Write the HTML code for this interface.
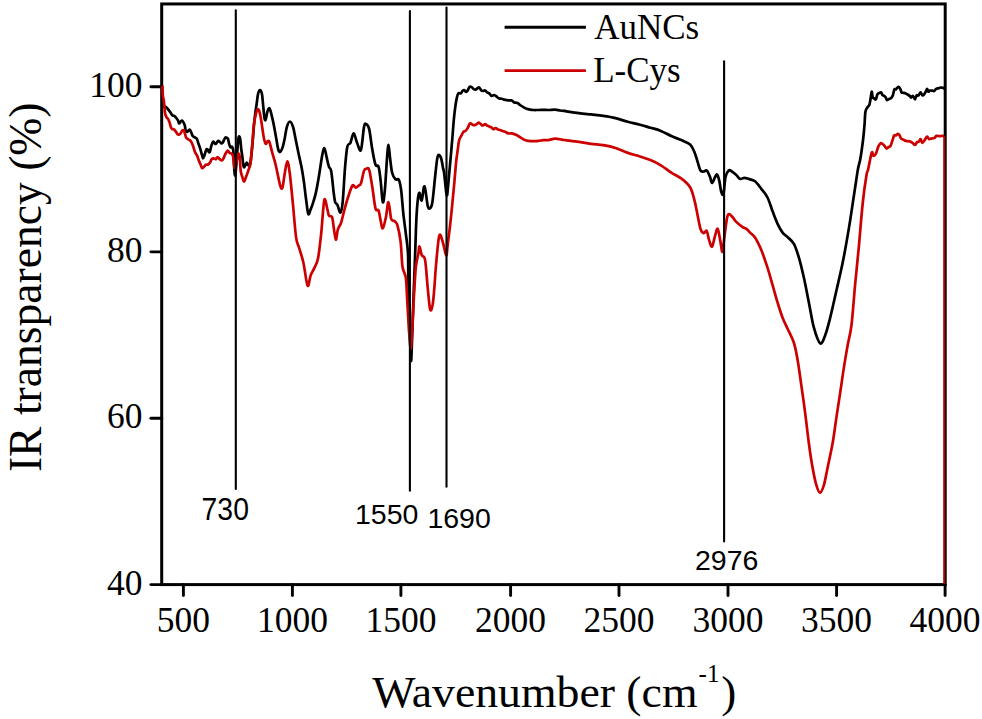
<!DOCTYPE html>
<html><head><meta charset="utf-8"><style>
html,body{margin:0;padding:0;background:#fff;width:982px;height:719px;overflow:hidden}
svg{position:absolute;left:0;top:0}
.s{font-family:"Liberation Serif",serif}
.a{font-family:"Liberation Sans",sans-serif}
</style></head><body>
<svg width="982" height="719" viewBox="0 0 982 719">

<rect x="161.70" y="3.95" width="783.50" height="580.65" fill="none" stroke="#000" stroke-width="3"/>
<line x1="183.4" y1="584.6" x2="183.4" y2="595.5" stroke="#000" stroke-width="2.9" stroke-linecap="round"/>
<text class="s" x="183.4" y="631.5" font-size="35.5" text-anchor="middle">500</text>
<line x1="292.4" y1="584.6" x2="292.4" y2="595.5" stroke="#000" stroke-width="2.9" stroke-linecap="round"/>
<text class="s" x="292.4" y="631.5" font-size="35.5" text-anchor="middle">1000</text>
<line x1="400.9" y1="584.6" x2="400.9" y2="595.5" stroke="#000" stroke-width="2.9" stroke-linecap="round"/>
<text class="s" x="400.9" y="631.5" font-size="35.5" text-anchor="middle">1500</text>
<line x1="510.6" y1="584.6" x2="510.6" y2="595.5" stroke="#000" stroke-width="2.9" stroke-linecap="round"/>
<text class="s" x="510.6" y="631.5" font-size="35.5" text-anchor="middle">2000</text>
<line x1="619.0" y1="584.6" x2="619.0" y2="595.5" stroke="#000" stroke-width="2.9" stroke-linecap="round"/>
<text class="s" x="619.0" y="631.5" font-size="35.5" text-anchor="middle">2500</text>
<line x1="728.0" y1="584.6" x2="728.0" y2="595.5" stroke="#000" stroke-width="2.9" stroke-linecap="round"/>
<text class="s" x="728.0" y="631.5" font-size="35.5" text-anchor="middle">3000</text>
<line x1="836.6" y1="584.6" x2="836.6" y2="595.5" stroke="#000" stroke-width="2.9" stroke-linecap="round"/>
<text class="s" x="836.6" y="631.5" font-size="35.5" text-anchor="middle">3500</text>
<line x1="945.1" y1="584.6" x2="945.1" y2="595.5" stroke="#000" stroke-width="2.9" stroke-linecap="round"/>
<text class="s" x="945.1" y="631.5" font-size="35.5" text-anchor="middle">4000</text>
<line x1="150.9" y1="86.80" x2="161.70" y2="86.80" stroke="#000" stroke-width="2.9" stroke-linecap="round"/>
<text class="s" x="142.6" y="96.9" font-size="35.5" text-anchor="end">100</text>
<line x1="150.9" y1="251.85" x2="161.70" y2="251.85" stroke="#000" stroke-width="2.9" stroke-linecap="round"/>
<text class="s" x="142.6" y="261.9" font-size="35.5" text-anchor="end">80</text>
<line x1="150.9" y1="418.30" x2="161.70" y2="418.30" stroke="#000" stroke-width="2.9" stroke-linecap="round"/>
<text class="s" x="142.6" y="428.4" font-size="35.5" text-anchor="end">60</text>
<line x1="150.9" y1="584.60" x2="161.70" y2="584.60" stroke="#000" stroke-width="2.9" stroke-linecap="round"/>
<text class="s" x="142.6" y="594.7" font-size="35.5" text-anchor="end">40</text>
<path d="M162.3,106.6 C162.6,106.6 163.5,106.6 164.2,106.8 C164.9,107.0 165.9,107.0 166.6,107.5 C167.3,108.0 167.7,108.8 168.3,109.6 C168.9,110.4 169.8,111.5 170.4,112.4 C171.1,113.3 171.5,114.6 172.2,115.2 C172.8,115.8 173.6,115.4 174.3,115.9 C175.0,116.4 175.7,117.2 176.3,118.0 C176.9,118.8 177.6,119.8 178.1,120.7 C178.6,121.6 178.6,123.4 179.1,123.5 C179.6,123.6 180.4,121.9 180.9,121.4 C181.4,120.9 181.8,120.4 182.3,120.7 C182.8,121.0 183.6,122.6 184.0,123.5 C184.4,124.4 184.7,125.1 185.0,126.3 C185.3,127.5 185.3,129.6 185.7,130.5 C186.0,131.4 186.6,131.9 187.1,131.9 C187.6,131.9 188.0,130.8 188.5,130.5 C189.0,130.2 189.4,129.5 189.9,129.8 C190.4,130.2 190.8,131.6 191.3,132.6 C191.8,133.6 192.1,135.2 192.7,136.0 C193.3,136.8 194.1,136.9 194.8,137.4 C195.5,137.9 196.3,137.7 196.9,138.8 C197.5,139.9 197.9,142.2 198.5,143.8 C199.1,145.4 199.6,146.8 200.2,148.6 C200.8,150.4 201.5,153.3 202.0,154.9 C202.5,156.5 202.6,158.3 203.0,158.4 C203.4,158.5 203.9,157.0 204.4,155.6 C204.9,154.2 205.6,151.1 206.1,150.0 C206.6,148.9 207.0,149.0 207.5,149.3 C208.0,149.7 208.5,151.8 208.9,152.1 C209.3,152.4 209.6,152.4 210.0,151.4 C210.4,150.4 210.8,147.5 211.3,145.9 C211.8,144.3 212.6,142.2 213.1,141.7 C213.6,141.2 214.0,142.8 214.5,143.1 C215.0,143.4 215.3,144.2 215.9,143.8 C216.5,143.5 217.3,141.3 218.0,141.0 C218.7,140.7 219.4,141.6 220.0,142.0 C220.6,142.4 220.9,143.3 221.4,143.4 C221.9,143.5 222.2,143.3 222.8,142.4 C223.4,141.5 224.3,139.0 224.9,138.2 C225.5,137.4 225.8,137.4 226.3,137.5 C226.8,137.6 227.5,137.8 228.0,138.9 C228.5,140.0 228.7,142.4 229.1,143.8 C229.5,145.2 230.0,146.8 230.5,147.3 C231.0,147.8 231.5,146.4 231.9,146.6 C232.3,146.8 232.6,147.3 232.9,148.6 C233.2,149.9 233.4,150.7 233.6,154.2 C233.8,157.7 234.0,166.0 234.3,169.5 C234.6,173.0 234.9,176.6 235.3,175.0 C235.7,173.4 236.3,164.9 236.7,159.8 C237.1,154.7 237.5,148.3 237.8,144.5 C238.2,140.7 238.4,137.7 238.8,136.8 C239.2,135.9 239.8,136.9 240.2,138.9 C240.6,140.9 240.8,145.7 241.2,148.6 C241.5,151.5 242.0,153.8 242.3,156.3 C242.6,158.8 242.8,161.7 243.1,163.5 C243.4,165.3 243.6,167.4 244.2,167.3 C244.8,167.2 245.9,163.2 246.5,162.8 C247.1,162.4 247.8,164.9 247.9,165.0 C248.0,165.1 246.8,163.3 247.1,163.4 C247.4,163.5 248.9,166.1 249.5,165.5 C250.1,164.9 250.4,162.6 250.8,160.0 C251.2,157.4 251.6,153.3 251.9,150.0 C252.2,146.7 252.5,144.2 252.8,140.0 C253.2,135.8 253.6,129.5 254.0,125.0 C254.4,120.5 254.9,116.3 255.3,113.0 C255.7,109.7 256.0,108.2 256.5,105.0 C257.0,101.8 257.5,96.3 258.1,93.8 C258.7,91.3 259.4,90.0 260.0,90.0 C260.6,90.0 261.4,91.3 261.9,93.8 C262.4,96.3 262.7,101.0 263.1,105.0 C263.5,109.0 264.0,115.0 264.4,117.5 C264.8,120.0 265.1,121.0 265.6,120.0 C266.1,119.0 266.9,113.3 267.5,111.3 C268.1,109.3 268.8,107.8 269.4,108.2 C270.0,108.6 270.6,111.0 271.3,113.8 C272.0,116.6 273.0,120.9 273.8,125.1 C274.6,129.3 275.6,134.9 276.3,138.8 C277.0,142.8 277.5,146.6 278.1,148.8 C278.7,151.0 279.3,152.2 280.0,152.0 C280.7,151.8 281.7,149.8 282.5,147.6 C283.3,145.4 283.9,142.6 284.6,139.1 C285.3,135.6 286.0,129.7 286.9,126.8 C287.8,123.9 288.9,121.5 289.9,121.5 C290.9,121.5 292.1,124.1 293.0,126.8 C293.9,129.5 294.4,133.2 295.3,137.5 C296.2,141.8 297.4,148.0 298.4,152.8 C299.4,157.7 300.5,162.0 301.4,166.6 C302.3,171.2 302.9,175.1 303.7,180.4 C304.5,185.8 305.2,193.1 306.0,198.7 C306.8,204.3 307.5,212.2 308.3,214.0 C309.1,215.8 309.8,211.2 310.6,209.4 C311.4,207.6 312.0,206.1 312.9,203.3 C313.8,200.5 314.9,197.2 315.9,192.6 C316.9,188.0 318.0,181.9 319.0,175.8 C320.0,169.7 321.2,160.5 322.1,155.9 C323.0,151.3 323.6,147.9 324.4,148.2 C325.2,148.4 325.9,154.3 326.7,157.4 C327.4,160.5 328.1,164.3 328.9,166.6 C329.6,168.9 330.4,167.1 331.2,171.2 C332.0,175.3 332.9,186.0 333.5,191.1 C334.1,196.2 334.5,199.5 335.1,201.8 C335.8,204.1 336.5,203.1 337.4,204.9 C338.3,206.7 339.5,213.0 340.4,212.5 C341.3,212.0 341.9,209.2 342.7,201.8 C343.5,194.4 344.2,177.3 345.0,168.1 C345.8,158.9 346.4,150.9 347.3,146.7 C348.2,142.5 349.3,145.1 350.4,142.9 C351.4,140.7 352.6,133.6 353.6,133.4 C354.7,133.2 355.5,138.9 356.7,141.7 C357.9,144.5 359.7,152.5 360.9,150.1 C362.1,147.7 363.1,131.4 364.0,127.1 C364.9,122.8 365.2,123.7 366.1,124.0 C367.0,124.3 368.1,124.8 369.2,129.2 C370.2,133.5 371.3,144.2 372.4,150.1 C373.4,156.0 374.5,161.9 375.5,164.7 C376.5,167.5 377.7,164.0 378.6,166.8 C379.5,169.6 380.0,175.5 380.7,181.4 C381.4,187.3 382.1,200.8 382.8,202.2 C383.5,203.6 384.2,197.0 384.9,189.7 C385.6,182.4 386.4,165.9 387.0,158.4 C387.6,150.9 388.0,144.9 388.5,144.9 C389.0,144.9 389.5,153.7 390.1,158.4 C390.7,163.1 391.3,169.5 392.2,173.0 C393.1,176.5 394.3,178.2 395.4,179.3 C396.5,180.4 397.9,178.1 398.8,179.8 C399.8,181.6 400.3,184.1 401.1,189.8 C401.9,195.6 402.6,207.2 403.4,214.3 C404.2,221.4 404.9,226.0 405.7,232.6 C406.5,239.2 407.6,245.5 408.0,254.0 C408.4,262.5 408.1,270.1 408.4,283.4 C408.7,296.6 409.6,320.7 410.0,333.5 C410.4,346.3 410.6,357.4 410.9,360.2 C411.2,363.0 411.3,360.2 411.7,350.2 C412.1,340.2 412.8,315.4 413.4,300.1 C413.9,284.8 414.5,271.9 415.0,258.3 C415.5,244.8 415.9,228.7 416.4,218.8 C416.9,208.9 417.4,203.3 417.9,199.0 C418.4,194.7 418.9,192.6 419.5,192.8 C420.1,193.1 420.9,201.5 421.7,200.5 C422.4,199.5 423.4,188.2 424.0,186.7 C424.6,185.2 425.0,188.0 425.6,191.3 C426.2,194.6 427.1,203.8 427.9,206.6 C428.7,209.4 429.4,208.9 430.2,208.1 C430.9,207.3 431.5,207.8 432.4,202.0 C433.3,196.2 434.6,180.7 435.5,173.0 C436.4,165.3 436.9,158.7 437.8,156.1 C438.7,153.5 440.0,155.5 440.9,157.6 C441.8,159.7 442.6,165.8 443.1,168.4 C443.7,171.1 443.6,169.0 444.2,173.5 C444.8,178.0 446.0,193.5 446.7,195.2 C447.4,196.9 447.6,190.2 448.3,183.5 C449.0,176.8 450.2,162.3 450.9,155.1 C451.5,147.8 451.7,145.8 452.2,140.0 C452.7,134.2 453.3,125.4 453.8,120.0 C454.3,114.6 454.7,111.1 455.2,107.5 C455.7,103.9 456.2,100.8 456.7,98.4 C457.2,96.1 457.6,94.2 458.3,93.4 C459.0,92.6 460.2,93.8 460.9,93.4 C461.6,93.0 461.9,91.5 462.5,90.9 C463.1,90.3 463.6,89.9 464.2,90.0 C464.8,90.1 465.3,91.5 465.9,91.7 C466.4,91.9 466.9,91.7 467.5,90.9 C468.1,90.1 468.9,87.3 469.6,86.7 C470.3,86.1 471.1,86.8 471.7,87.1 C472.3,87.4 472.8,88.4 473.4,88.8 C474.0,89.2 474.8,89.7 475.5,89.6 C476.2,89.5 476.9,88.6 477.5,88.3 C478.1,88.0 478.6,87.2 479.2,87.5 C479.8,87.8 480.6,89.8 481.3,90.4 C482.0,91.0 482.8,90.9 483.4,90.9 C484.0,90.9 484.5,90.1 485.1,90.4 C485.7,90.7 486.4,92.0 487.1,92.5 C487.8,93.0 488.4,92.8 489.2,93.4 C490.0,94.0 490.9,95.6 491.7,95.9 C492.5,96.2 493.4,94.9 494.2,95.0 C495.0,95.1 495.9,96.1 496.7,96.7 C497.5,97.3 498.3,98.1 499.2,98.4 C500.1,98.8 500.9,98.6 501.8,98.8 C502.7,99.0 503.2,99.3 504.3,99.6 C505.4,99.9 507.1,100.3 508.3,100.4 C509.5,100.5 510.7,100.1 511.7,100.4 C512.7,100.8 513.2,102.1 514.2,102.5 C515.2,102.9 516.5,102.5 517.5,102.9 C518.5,103.3 519.0,104.3 520.0,105.0 C521.0,105.7 522.3,106.5 523.4,107.1 C524.5,107.7 525.6,108.4 526.7,108.8 C527.8,109.2 528.9,109.4 530.0,109.6 C531.1,109.8 532.0,109.9 533.4,110.0 C534.8,110.1 536.7,110.0 538.4,110.0 C540.1,110.0 541.7,109.9 543.4,109.9 C545.1,109.9 546.4,110.0 548.4,110.0 C550.4,110.0 553.1,109.5 555.1,109.6 C557.1,109.7 558.5,110.3 560.1,110.5 C561.8,110.7 563.9,110.8 565.0,110.9 C566.1,111.1 564.4,111.0 566.7,111.4 C569.0,111.8 574.8,112.7 578.9,113.2 C583.0,113.7 587.0,114.0 591.1,114.4 C595.2,114.9 599.2,115.3 603.3,115.9 C607.4,116.5 611.4,117.1 615.5,118.1 C619.6,119.1 623.7,120.7 627.8,121.8 C631.9,122.9 636.2,123.7 640.0,124.7 C643.8,125.7 646.9,126.7 650.4,127.7 C653.9,128.7 657.4,129.5 660.9,130.9 C664.4,132.3 667.8,134.5 671.3,136.1 C674.8,137.7 678.7,138.9 681.8,140.3 C684.9,141.7 688.0,142.5 690.1,144.4 C692.2,146.3 693.1,148.9 694.3,151.7 C695.5,154.5 696.4,158.0 697.4,161.1 C698.4,164.2 699.5,168.8 700.5,170.5 C701.5,172.2 702.7,171.5 703.7,171.5 C704.8,171.5 705.8,169.6 706.8,170.5 C707.8,171.4 709.1,174.7 710.0,176.8 C710.9,178.9 711.1,183.0 712.0,183.0 C712.9,183.0 714.3,178.2 715.2,176.8 C716.1,175.4 716.5,174.0 717.2,174.7 C717.9,175.4 718.6,177.9 719.3,180.9 C720.0,183.9 720.7,190.3 721.4,192.4 C722.1,194.5 722.8,196.1 723.5,193.5 C724.2,190.9 724.7,180.6 725.6,176.8 C726.5,173.0 727.7,171.4 728.7,170.5 C729.8,169.6 730.7,170.8 731.9,171.5 C733.1,172.2 734.6,173.5 736.0,174.7 C737.4,175.9 738.8,178.4 740.2,178.9 C741.6,179.4 743.0,177.8 744.4,177.8 C745.8,177.8 746.8,178.3 748.6,178.9 C750.4,179.5 752.9,179.7 755.0,181.3 C757.1,183.0 759.2,186.1 761.3,188.8 C763.4,191.5 765.6,193.8 767.5,197.5 C769.4,201.2 770.9,206.9 772.6,211.3 C774.3,215.7 775.9,220.2 777.6,223.8 C779.3,227.4 780.9,230.4 782.6,232.6 C784.3,234.8 785.7,235.2 787.6,237.1 C789.5,239.0 792.0,240.5 793.9,243.9 C795.8,247.3 797.2,252.0 798.9,257.6 C800.6,263.2 802.2,270.2 803.9,277.7 C805.6,285.2 807.2,294.4 808.9,302.7 C810.6,311.0 812.0,320.9 813.9,327.7 C815.8,334.5 818.3,342.1 820.2,343.3 C822.1,344.6 823.5,339.5 825.2,335.2 C826.9,330.9 828.3,325.2 830.2,317.7 C832.1,310.2 834.4,299.4 836.5,290.2 C838.6,281.0 840.6,273.0 842.7,262.6 C844.8,252.2 847.1,238.9 849.0,227.6 C850.9,216.3 852.5,204.6 854.0,195.0 C855.5,185.4 856.8,176.0 857.8,170.0 C858.8,164.0 859.4,164.1 860.3,159.0 C861.2,153.9 862.4,145.2 863.1,139.5 C863.8,133.8 864.1,129.6 864.5,125.0 C864.9,120.4 864.9,114.8 865.4,111.9 C865.9,109.0 866.6,108.9 867.2,107.7 C867.9,106.5 868.7,106.4 869.3,104.9 C869.9,103.4 870.2,100.8 870.6,98.6 C871.0,96.4 871.4,91.9 871.7,91.7 C872.1,91.5 872.2,96.2 872.7,97.3 C873.2,98.4 874.0,98.3 874.5,98.6 C875.0,98.9 875.4,100.0 875.9,99.3 C876.4,98.6 876.8,95.5 877.3,94.5 C877.8,93.5 878.4,93.4 879.0,93.1 C879.6,92.8 880.5,92.1 881.1,92.4 C881.7,92.8 882.0,94.6 882.5,95.2 C883.0,95.8 883.7,95.6 884.2,95.9 C884.7,96.2 885.1,96.6 885.6,97.3 C886.1,98.0 886.4,99.7 887.0,100.0 C887.6,100.3 888.4,99.3 889.1,99.0 C889.8,98.7 890.6,98.6 891.2,98.0 C891.8,97.4 892.4,96.6 892.9,95.2 C893.4,93.8 893.8,90.6 894.3,89.6 C894.8,88.6 895.3,89.8 896.0,89.3 C896.7,88.8 897.8,86.9 898.5,86.8 C899.2,86.7 899.7,88.0 900.2,88.9 C900.7,89.8 901.2,91.8 901.6,92.4 C902.0,93.0 902.1,92.5 902.8,92.7 C903.5,92.9 904.8,93.1 905.6,93.4 C906.4,93.7 906.9,94.1 907.6,94.5 C908.3,94.9 909.1,95.4 909.7,95.9 C910.3,96.4 910.6,97.6 911.1,97.6 C911.6,97.6 912.2,95.6 912.9,95.9 C913.5,96.2 914.4,99.4 915.0,99.3 C915.6,99.2 916.1,95.8 916.7,95.2 C917.3,94.6 917.8,96.0 918.4,95.5 C919.0,95.0 919.9,92.5 920.5,92.4 C921.1,92.4 921.7,94.9 922.3,95.2 C922.9,95.5 923.4,95.1 924.0,94.5 C924.6,93.9 925.2,92.6 925.7,91.7 C926.2,90.8 926.7,88.9 927.1,88.9 C927.5,88.9 927.7,91.4 928.2,91.7 C928.7,92.0 929.3,90.8 929.9,90.6 C930.5,90.4 931.3,90.5 932.0,90.6 C932.7,90.7 933.4,91.3 934.1,91.0 C934.8,90.7 935.4,89.4 936.2,88.9 C937.0,88.4 938.1,88.4 938.9,88.2 C939.7,88.0 940.3,87.5 941.0,87.5 C941.7,87.5 942.5,87.7 943.1,87.9 C943.7,88.1 944.3,88.5 944.5,88.6" fill="none" stroke="#000" stroke-width="2.7" stroke-linejoin="round"/>
<path d="M162.5,85.6 C162.6,87.2 162.6,92.5 162.8,95.0 C163.0,97.5 163.5,98.6 163.8,100.6 C164.1,102.6 164.3,104.6 164.5,106.8 C164.7,109.0 164.8,112.0 165.2,113.8 C165.5,115.5 166.1,116.4 166.6,117.3 C167.1,118.2 167.8,118.4 168.3,119.3 C168.8,120.2 169.3,121.5 169.7,122.8 C170.1,124.1 170.4,126.0 170.8,127.0 C171.2,128.1 171.7,128.7 172.2,129.1 C172.7,129.5 173.3,128.9 173.9,129.4 C174.5,129.9 175.3,131.0 176.0,131.9 C176.7,132.8 177.4,134.3 178.1,134.6 C178.8,134.9 179.5,134.6 180.2,133.9 C180.9,133.2 181.7,131.1 182.3,130.5 C182.9,129.9 183.6,129.9 184.0,130.5 C184.4,131.1 184.6,132.6 185.0,133.9 C185.4,135.2 185.8,137.2 186.4,138.1 C187.0,139.0 187.8,139.0 188.5,139.5 C189.2,140.0 189.9,140.0 190.6,140.9 C191.3,141.8 192.0,143.1 192.7,145.0 C193.4,146.9 194.3,150.3 195.0,152.1 C195.7,153.9 196.5,154.2 197.1,155.6 C197.7,157.0 198.2,159.0 198.8,160.5 C199.4,162.0 200.1,163.3 200.6,164.6 C201.1,165.9 201.4,167.8 202.0,168.1 C202.6,168.4 203.3,167.3 204.0,166.7 C204.7,166.1 205.4,164.9 206.1,164.6 C206.8,164.2 207.5,164.9 208.2,164.6 C208.8,164.3 209.4,163.5 210.0,162.6 C210.6,161.7 211.1,159.8 211.7,159.1 C212.3,158.4 213.1,158.4 213.8,158.4 C214.5,158.4 215.3,159.3 215.9,159.1 C216.5,158.9 217.0,157.0 217.6,157.0 C218.2,157.0 219.0,158.5 219.7,159.1 C220.4,159.7 221.2,160.6 221.8,160.5 C222.4,160.4 222.9,159.6 223.5,158.4 C224.1,157.2 224.9,154.8 225.6,153.5 C226.3,152.2 227.1,150.8 227.7,150.7 C228.3,150.6 228.8,152.3 229.4,152.8 C230.0,153.3 230.6,153.0 231.2,153.5 C231.8,154.0 232.4,153.9 232.9,155.6 C233.4,157.3 233.6,161.8 233.9,163.9 C234.2,166.0 234.5,168.6 235.0,168.1 C235.5,167.6 236.2,163.5 236.7,161.2 C237.2,158.9 237.6,155.1 238.1,154.2 C238.6,153.2 239.1,153.6 239.5,155.5 C239.9,157.4 240.1,162.8 240.3,165.6 C240.5,168.4 240.5,170.3 240.9,172.3 C241.3,174.3 242.1,176.2 242.6,177.8 C243.1,179.4 243.4,181.8 244.0,181.7 C244.6,181.6 245.3,178.8 246.0,177.0 C246.7,175.2 247.4,173.3 248.1,171.1 C248.8,168.9 249.8,167.1 250.4,163.9 C251.0,160.7 251.2,155.6 251.6,152.0 C251.9,148.4 252.1,147.1 252.5,142.6 C252.9,138.1 253.2,130.1 253.8,125.1 C254.4,120.1 255.6,115.1 256.3,112.5 C257.0,109.9 257.5,109.2 258.1,109.4 C258.7,109.6 259.4,111.2 260.0,113.8 C260.6,116.4 261.3,121.1 261.9,125.1 C262.5,129.1 263.2,134.5 263.8,137.6 C264.4,140.7 265.0,143.2 265.6,143.8 C266.2,144.4 266.9,141.6 267.5,141.3 C268.1,141.0 268.7,140.3 269.4,142.0 C270.1,143.7 271.1,148.3 271.9,151.3 C272.7,154.3 273.6,157.2 274.4,160.1 C275.2,163.0 275.7,164.8 276.6,169.0 C277.5,173.2 279.1,181.8 280.0,185.0 C280.9,188.2 281.5,189.8 282.3,188.0 C283.1,186.2 283.8,178.8 284.6,174.3 C285.4,169.9 286.4,161.3 287.3,161.3 C288.2,161.3 288.9,167.0 289.9,174.3 C290.8,181.6 292.0,194.4 293.0,204.9 C294.0,215.4 295.1,230.4 296.1,237.6 C297.1,244.8 298.0,243.9 299.2,248.1 C300.4,252.3 302.0,256.4 303.4,262.7 C304.8,268.9 306.4,283.5 307.6,285.6 C308.8,287.7 309.6,278.0 310.7,275.2 C311.8,272.4 312.7,271.7 313.9,268.9 C315.1,266.1 316.8,264.4 318.0,258.5 C319.2,252.6 320.1,243.2 321.2,233.5 C322.2,223.8 323.3,204.1 324.3,200.1 C325.3,196.1 326.6,206.8 327.4,209.4 C328.2,212.0 328.1,214.3 328.9,215.6 C329.7,216.9 331.2,215.2 332.0,217.1 C332.8,219.0 333.1,223.4 333.7,227.2 C334.3,231.0 335.1,239.3 335.8,239.7 C336.5,240.0 337.0,232.1 337.9,229.3 C338.8,226.5 339.9,226.1 341.0,223.0 C342.1,219.9 343.0,215.1 344.2,210.6 C345.4,206.1 347.0,200.2 348.4,196.0 C349.8,191.8 351.3,186.9 352.5,185.5 C353.7,184.1 354.6,187.6 355.7,187.6 C356.8,187.6 357.9,186.2 358.8,185.5 C359.7,184.8 360.0,185.9 360.9,183.5 C361.8,181.1 363.1,173.3 364.0,170.9 C364.9,168.5 365.2,169.1 366.1,168.9 C367.0,168.7 368.1,166.8 369.2,169.9 C370.2,173.0 371.3,181.2 372.4,187.6 C373.4,194.0 374.5,204.7 375.5,208.5 C376.5,212.3 377.7,208.5 378.6,210.6 C379.5,212.7 380.0,218.1 380.7,221.0 C381.4,223.9 381.9,229.0 382.8,228.3 C383.7,227.6 385.1,221.2 386.0,216.8 C386.9,212.5 387.6,201.8 388.5,202.2 C389.4,202.5 390.2,215.8 391.2,218.9 C392.2,222.0 393.3,219.9 394.3,221.0 C395.3,222.1 396.3,221.7 397.4,225.2 C398.4,228.7 399.8,235.0 400.6,241.9 C401.5,248.8 401.6,260.6 402.5,266.7 C403.4,272.8 405.1,272.0 405.9,278.4 C406.7,284.8 406.9,295.9 407.5,305.1 C408.1,314.3 408.6,326.3 409.2,333.5 C409.8,340.7 410.3,349.9 410.9,348.5 C411.4,347.1 411.9,334.6 412.5,325.1 C413.1,315.6 413.6,301.4 414.2,291.7 C414.8,282.0 415.2,273.1 415.9,266.7 C416.6,260.3 417.8,256.7 418.4,253.3 C419.0,249.9 418.9,246.1 419.5,246.4 C420.1,246.7 420.8,252.7 421.7,255.0 C422.6,257.3 424.1,254.7 425.1,260.0 C426.1,265.3 426.8,278.5 427.6,286.7 C428.4,294.9 429.3,306.2 430.1,309.3 C430.9,312.4 431.9,308.6 432.6,305.1 C433.3,301.6 433.8,294.8 434.3,288.4 C434.9,282.0 435.1,275.5 435.9,266.7 C436.7,257.9 438.1,239.6 439.3,235.7 C440.5,231.8 442.0,240.0 443.1,243.3 C444.2,246.6 445.4,255.3 446.2,255.6 C447.0,255.9 446.9,251.0 447.7,244.9 C448.5,238.8 449.8,228.2 450.8,218.8 C451.8,209.4 452.9,197.6 453.8,188.2 C454.7,178.8 455.5,168.6 456.1,162.2 C456.8,155.8 457.2,153.7 457.7,150.0 C458.2,146.3 458.5,142.6 459.2,140.1 C459.9,137.6 461.0,136.5 461.7,135.1 C462.4,133.7 462.8,132.5 463.4,131.8 C464.0,131.1 464.7,131.5 465.4,130.9 C466.1,130.3 466.7,129.7 467.5,128.4 C468.3,127.2 469.2,124.0 470.0,123.4 C470.8,122.8 471.7,124.4 472.5,124.7 C473.3,125.0 474.2,125.2 475.0,125.1 C475.8,124.9 476.5,124.2 477.1,123.8 C477.7,123.4 478.2,122.5 478.8,122.6 C479.4,122.7 480.3,123.7 480.9,124.2 C481.5,124.7 481.9,125.5 482.6,125.5 C483.3,125.5 484.4,124.2 485.1,124.2 C485.9,124.2 486.4,125.1 487.1,125.5 C487.9,125.9 488.8,126.4 489.6,126.7 C490.4,127.0 491.1,127.2 491.7,127.6 C492.3,128.0 492.8,129.1 493.4,129.2 C494.0,129.3 494.8,128.0 495.5,128.0 C496.2,128.0 496.8,128.8 497.6,129.2 C498.4,129.5 499.3,129.8 500.1,130.1 C500.9,130.4 501.8,130.6 502.6,130.9 C503.4,131.2 504.2,131.4 505.1,131.8 C506.1,132.2 507.2,133.1 508.3,133.4 C509.4,133.7 510.4,133.2 511.7,133.4 C513.0,133.6 514.5,134.1 515.9,134.7 C517.3,135.3 518.6,136.4 520.0,137.2 C521.4,138.0 522.8,139.1 524.2,139.7 C525.6,140.3 526.9,140.7 528.4,140.9 C529.9,141.1 531.7,141.1 533.4,141.1 C535.1,141.1 536.7,141.1 538.4,140.9 C540.1,140.7 541.7,140.2 543.4,140.1 C545.1,140.0 546.7,140.3 548.4,140.1 C550.1,139.9 551.9,139.0 553.4,138.8 C554.9,138.6 556.2,138.7 557.6,138.8 C559.0,139.0 560.6,139.5 561.8,139.7 C563.0,139.9 564.2,140.0 565.0,140.1 C565.8,140.2 564.4,140.0 566.7,140.3 C569.0,140.6 574.8,141.3 578.9,141.9 C583.0,142.5 587.0,143.2 591.1,143.8 C595.2,144.4 599.2,144.5 603.3,145.2 C607.4,145.9 611.4,146.7 615.5,148.0 C619.6,149.3 623.7,151.5 627.8,152.9 C631.9,154.3 636.2,155.3 640.0,156.5 C643.8,157.7 646.9,158.6 650.4,160.1 C653.9,161.6 657.4,163.2 660.9,165.3 C664.4,167.4 667.8,170.3 671.3,172.6 C674.8,174.9 678.7,176.5 681.8,178.9 C684.9,181.3 688.0,183.7 690.1,187.2 C692.2,190.7 693.1,195.2 694.3,199.7 C695.5,204.2 696.4,209.4 697.4,214.3 C698.4,219.2 699.5,225.8 700.5,228.9 C701.5,232.0 702.7,232.8 703.7,233.1 C704.8,233.4 705.9,229.9 706.8,231.0 C707.7,232.1 708.0,236.8 708.9,239.4 C709.8,242.0 711.0,247.4 712.0,246.7 C713.0,246.0 714.2,238.2 715.2,235.2 C716.2,232.2 716.8,227.9 717.7,228.9 C718.6,229.9 719.6,237.6 720.4,241.4 C721.2,245.2 721.8,252.9 722.5,251.9 C723.2,250.9 723.7,241.3 724.6,235.2 C725.5,229.1 726.5,218.5 727.7,215.4 C728.9,212.3 730.5,215.4 731.9,216.4 C733.3,217.4 734.3,219.9 736.0,221.6 C737.7,223.3 740.5,225.6 742.3,226.8 C744.0,228.0 745.2,227.9 746.5,228.9 C747.8,229.9 748.6,231.2 750.0,232.6 C751.4,234.0 753.1,234.7 755.0,237.6 C756.9,240.5 759.2,245.1 761.3,250.1 C763.4,255.1 765.6,261.8 767.5,267.6 C769.4,273.5 770.9,279.4 772.6,285.2 C774.3,291.0 775.9,297.3 777.6,302.7 C779.3,308.1 780.9,313.4 782.6,317.7 C784.3,322.0 785.7,324.6 787.6,328.7 C789.5,332.8 792.1,337.3 793.8,342.5 C795.5,347.7 796.4,352.9 797.6,360.0 C798.9,367.1 800.0,376.3 801.3,385.1 C802.5,393.9 803.9,403.0 805.1,412.6 C806.4,422.2 807.5,433.5 808.8,442.7 C810.0,451.9 811.3,460.6 812.6,467.7 C813.9,474.8 815.1,481.0 816.4,485.2 C817.6,489.4 818.9,492.7 820.1,492.7 C821.4,492.7 822.6,489.4 823.9,485.2 C825.1,481.0 826.1,474.8 827.6,467.7 C829.1,460.6 831.2,451.0 832.7,442.7 C834.2,434.4 835.1,426.0 836.4,417.6 C837.6,409.2 839.0,400.9 840.2,392.6 C841.5,384.3 842.6,375.5 843.9,367.6 C845.1,359.7 846.4,352.1 847.7,345.0 C849.0,337.9 850.2,335.4 851.5,325.0 C852.8,314.6 854.0,296.0 855.3,282.7 C856.5,269.4 857.8,258.5 859.0,245.1 C860.2,231.7 861.5,214.2 862.8,202.5 C864.0,190.8 865.6,180.4 866.5,175.0 C867.4,169.6 867.5,172.2 868.0,170.0 C868.5,167.8 869.2,164.2 869.7,161.7 C870.2,159.2 870.7,156.4 871.1,154.8 C871.5,153.2 871.9,151.9 872.2,152.0 C872.6,152.1 872.7,155.0 873.2,155.5 C873.7,156.0 874.7,155.6 875.3,154.8 C875.9,154.0 876.5,152.0 877.0,150.6 C877.5,149.2 877.8,147.6 878.4,146.4 C879.0,145.2 879.8,143.7 880.5,143.3 C881.2,142.9 881.9,143.5 882.6,144.0 C883.3,144.5 884.1,145.3 884.7,146.1 C885.3,146.8 885.8,148.3 886.4,148.5 C887.0,148.7 887.8,147.6 888.5,147.1 C889.2,146.6 890.0,146.7 890.6,145.7 C891.2,144.7 891.7,142.6 892.3,140.9 C892.9,139.2 893.5,136.5 894.1,135.6 C894.8,134.7 895.6,135.6 896.2,135.3 C896.8,135.0 897.3,133.9 897.9,133.9 C898.5,133.9 899.1,134.6 899.6,135.3 C900.1,136.1 900.4,137.7 901.0,138.4 C901.6,139.1 902.3,139.1 903.1,139.5 C903.9,139.9 905.2,140.6 905.9,140.9 C906.5,141.2 906.4,141.0 907.0,141.1 C907.6,141.2 908.8,141.1 909.7,141.4 C910.6,141.7 911.6,142.2 912.5,142.8 C913.4,143.4 914.2,145.0 915.0,144.9 C915.8,144.8 916.4,142.6 917.0,142.1 C917.6,141.6 918.2,142.3 918.8,141.8 C919.4,141.3 919.9,138.8 920.5,139.0 C921.1,139.2 921.7,142.5 922.3,142.8 C922.9,143.1 923.5,141.7 924.3,140.7 C925.1,139.7 926.3,136.9 927.1,136.6 C927.9,136.3 928.2,138.7 928.9,139.0 C929.6,139.3 930.4,138.8 931.3,138.6 C932.2,138.4 933.5,138.3 934.4,137.9 C935.3,137.5 935.6,136.2 936.5,135.9 C937.4,135.6 938.6,136.2 939.6,136.2 C940.6,136.2 941.6,135.9 942.4,135.9 C943.2,135.9 944.0,135.9 944.3,135.9" fill="none" stroke="#cc0000" stroke-width="2.7" stroke-linejoin="round"/>
<line x1="944.2" y1="135.9" x2="944.2" y2="584" stroke="#b80000" stroke-width="1.8"/>
<line x1="235.8" y1="10.2" x2="235.8" y2="489.0" stroke="#000" stroke-width="2.1" stroke-linecap="round"/>
<line x1="409.9" y1="11.1" x2="409.9" y2="490.8" stroke="#000" stroke-width="2.1" stroke-linecap="round"/>
<line x1="446.5" y1="7.5" x2="446.5" y2="486.7" stroke="#000" stroke-width="2.1" stroke-linecap="round"/>
<line x1="724.1" y1="61.2" x2="724.1" y2="541.5" stroke="#000" stroke-width="2.1" stroke-linecap="round"/>
<line x1="504.6" y1="27.3" x2="585.9" y2="27.3" stroke="#000" stroke-width="2.9"/>
<line x1="504.6" y1="70.6" x2="585.9" y2="70.6" stroke="#cc0000" stroke-width="2.9"/>
<text class="s" x="594.2" y="38.6" font-size="35">AuNCs</text>
<text class="s" x="593.2" y="82.3" font-size="35">L-Cys</text>
<text class="a" x="201.6" y="519.9" font-size="30.5" textLength="47.3" lengthAdjust="spacingAndGlyphs">730</text>
<text class="a" x="355" y="524.2" font-size="28.5">1550</text>
<text class="a" x="427.4" y="527.8" font-size="28.5">1690</text>
<text class="a" x="695" y="570.3" font-size="28.5">2976</text>
<text class="s" x="372.2" y="706.7" font-size="45" textLength="325.3" lengthAdjust="spacingAndGlyphs">Wavenumber (cm</text>
<text class="s" x="698.6" y="681.7" font-size="25">-1</text>
<text class="s" x="721.3" y="707" font-size="45">)</text>
<text class="s" transform="translate(41.3,472.1) rotate(-90)" x="0" y="0" font-size="47" textLength="369.6" lengthAdjust="spacingAndGlyphs">IR transparency (%)</text>
</svg></body></html>
